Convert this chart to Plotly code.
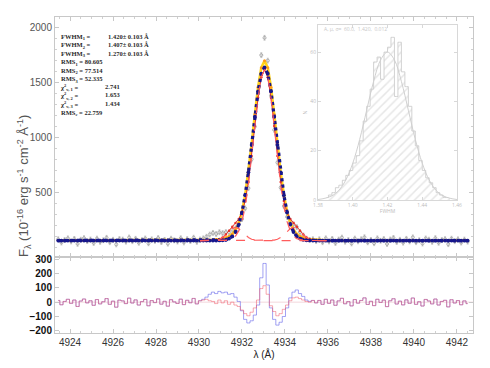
import plotly.graph_objects as go

# wavelength sampling (Angstrom)
WAVE = [
    4923.45, 4923.60, 4923.75, 4923.90, 4924.05, 4924.20, 4924.35, 4924.50, 4924.65, 4924.80,
    4924.95, 4925.10, 4925.25, 4925.40, 4925.55, 4925.70, 4925.85, 4926.00, 4926.15, 4926.30,
    4926.45, 4926.60, 4926.75, 4926.90, 4927.05, 4927.20, 4927.35, 4927.50, 4927.65, 4927.80,
    4927.95, 4928.10, 4928.25, 4928.40, 4928.55, 4928.70, 4928.85, 4929.00, 4929.15, 4929.30,
    4929.45, 4929.60, 4929.75, 4929.90, 4930.05, 4930.20, 4930.35, 4930.50, 4930.65, 4930.80,
    4930.95, 4931.10, 4931.25, 4931.40, 4931.55, 4931.70, 4931.85, 4932.00, 4932.15, 4932.30,
    4932.45, 4932.60, 4932.75, 4932.90, 4933.05, 4933.20, 4933.35, 4933.50, 4933.65, 4933.80,
    4933.95, 4934.10, 4934.25, 4934.40, 4934.55, 4934.70, 4934.85, 4935.00, 4935.15, 4935.30,
    4935.45, 4935.60, 4935.75, 4935.90, 4936.05, 4936.20, 4936.35, 4936.50, 4936.65, 4936.80,
    4936.95, 4937.10, 4937.25, 4937.40, 4937.55, 4937.70, 4937.85, 4938.00, 4938.15, 4938.30,
    4938.45, 4938.60, 4938.75, 4938.90, 4939.05, 4939.20, 4939.35, 4939.50, 4939.65, 4939.80,
    4939.95, 4940.10, 4940.25, 4940.40, 4940.55, 4940.70, 4940.85, 4941.00, 4941.15, 4941.30,
    4941.45, 4941.60, 4941.75, 4941.90, 4942.05, 4942.20, 4942.35, 4942.50,
]

# observed flux
FLUX_OBS = [
    72, 42, 65, 80, 52, 75, 30, 68, 82, 55, 70, 38, 78, 48, 63, 85, 45, 67, 25, 74,
    69, 50, 88, 54, 76, 40, 64, 79, 35, 71, 57, 83, 46, 66, 32, 77, 62, 51, 81, 43,
    73, 56, 86, 48,
    70, 80, 95, 115, 130, 120, 136, 128, 137, 133, 158, 173, 211, 256, 354, 538, 802, 1100, 1402, 1752,
    1910, 1702, 1382, 1070, 772, 543, 374, 276, 236, 208, 183, 138, 107, 78, 66, 72, 55, 72, 45, 80,
    52,
    75, 38, 69, 87, 49, 64, 34, 78, 53, 72, 90, 44, 66, 36, 80, 58, 74, 29, 70, 84,
    47, 67, 41, 76, 52, 89, 45, 63, 33, 79, 68, 48, 82, 40, 65, 73, 27, 77, 54, 71,
    42, 69, 50,
]
FLUX_ERR = 22

# fit 1 (blue dots)
MODEL_1 = [
    60, 60, 60, 60, 60, 60, 60, 60, 60, 60, 60, 60, 60, 60, 60, 60, 60, 60, 60, 60, 60, 60,
    60, 60, 60, 60, 60, 60, 60, 60, 60, 60, 60, 60, 60, 60, 60, 60, 60, 60, 60, 60, 60, 60,
    60, 60, 60, 60, 60, 60, 61, 63, 67, 78, 98, 138, 206, 316, 474, 683, 932, 1190, 1422, 1582,
    1640, 1582, 1422, 1190, 932, 683, 474, 316, 206, 138, 98, 78, 67, 63, 61, 60, 60, 60, 60, 60,
    60,
    60, 60, 60, 60, 60, 60, 60, 60, 60, 60, 60, 60, 60, 60, 60, 60, 60, 60, 60, 60, 60, 60,
    60, 60, 60, 60, 60, 60, 60, 60, 60, 60, 60, 60, 60, 60, 60, 60, 60, 60, 60, 60, 60,
]

# fit 2 (yellow / orange)
MODEL_2 = [
    60, 60, 60, 60, 60, 60, 60, 60, 60, 60, 60, 60, 60, 60, 60, 60, 60, 60, 60, 60, 60, 60,
    60, 60, 60, 60, 60, 60, 60, 60, 60, 60, 60, 60, 60, 60, 60, 60, 60, 60, 60, 60, 60, 61,
    61, 62, 63, 64, 66, 69, 72, 77, 86, 98, 120, 157, 221, 322, 475, 684, 938, 1211, 1460, 1637,
    1700, 1637, 1460, 1211, 938, 684, 475, 322, 221, 157, 120, 98, 86, 77, 72, 69, 66, 64, 63, 62,
    61,
    61, 60, 60, 60, 60, 60, 60, 60, 60, 60, 60, 60, 60, 60, 60, 60, 60, 60, 60, 60, 60, 60,
    60, 60, 60, 60, 60, 60, 60, 60, 60, 60, 60, 60, 60, 60, 60, 60, 60, 60, 60, 60, 60,
]

# fit 3 (red)
MODEL_3 = [
    60, 60, 60, 60, 60, 60, 60, 60, 60, 60, 60, 60, 60, 60, 60, 60, 60, 60, 60, 60, 60, 60,
    60, 60, 60, 60, 60, 60, 60, 60, 60, 60, 60, 60, 60, 60, 60, 60, 60, 60, 60, 60, 60, 60,
    60, 60, 60, 60, 61, 64, 72, 89, 116, 150, 186, 221, 257, 315, 422, 595, 831, 1105, 1364, 1551,
    1620, 1551, 1364, 1105, 831, 595, 422, 315, 257, 221, 186, 150, 116, 89, 72, 64, 61, 60, 60, 60,
    60,
    60, 60, 60, 60, 60, 60, 60, 60, 60, 60, 60, 60, 60, 60, 60, 60, 60, 60, 60, 60, 60, 60,
    60, 60, 60, 60, 60, 60, 60, 60, 60, 60, 60, 60, 60, 60, 60, 60, 60, 60, 60, 60, 60,
]

# individual gaussian components of fit 3, on WAVE[44:85]
COMP_LEFT = [
    60, 60, 60, 60, 61, 64, 72, 88, 113, 143, 169, 180, 169, 143, 113, 88, 72, 64, 61, 60,
    60, 60, 60, 60, 60, 60, 60, 60, 60, 60, 60, 60, 60, 60, 60, 60, 60, 60, 60, 60, 60,
]
COMP_CENTRAL = [
    60, 60, 60, 60, 60, 60, 60, 61, 63, 67, 77, 101, 148, 232, 369, 567, 819, 1101, 1363, 1551,
    1620, 1551, 1363, 1101, 819, 567, 369, 232, 148, 101, 77, 67, 63, 61, 60, 60, 60, 60, 60, 60,
    60,
]
COMP_RIGHT = [
    60, 60, 60, 60, 60, 60, 60, 60, 60, 60, 60, 60, 60, 60, 60, 60, 60, 60, 60, 60,
    60, 60, 61, 64, 72, 88, 113, 143, 169, 180, 169, 143, 113, 88, 72, 64, 61, 60, 60, 60, 60,
]

# residuals (observed - fit)
RESID_1 = [
    12, -18, 5, 20, -8, 15, -30, 8, 22, -5, 10, -22, 18, -12, 3, 25, -15, 7, -35, 14,
    9, -10, 28, -6, 16, -20, 4, 19, -25, 11, -3, 23, -14, 6, -28, 17, 2, -9, 21, -17,
    13, -4, 26, -12,
    10, 20, 35, 55, 70, 60, 75, 65, 70, 55, 60, 35, 5, -60, -120, -145, -130, -90, -20, 170,
    270, 120, -40, -120, -160, -140, -100, -40, 30, 70, 85, 60, 40, 15, 5, 12, -5, 12, -15, 20,
    -8,
    15, -22, 9, 27, -11, 4, -26, 18, -7, 12, 30, -16, 6, -24, 20, -2, 14, -31, 10, 24,
    -13, 7, -19, 16, -8, 29, -15, 3, -27, 19, 8, -12, 22, -20, 5, 13, -33, 17, -6, 11,
    -18, 9, -10,
]
RESID_3 = [
    12, -18, 5, 20, -8, 15, -30, 8, 22, -5, 10, -22, 18, -12, 3, 25, -15, 7, -35, 14,
    9, -10, 28, -6, 16, -20, 4, 19, -25, 11, -3, 23, -14, 6, -28, 17, 2, -9, 21, -17,
    13, -4, 26, -12,
    10, 15, 20, 10, 5, -10, 15, -5, 10, -15, 0, -20, -30, -55, -80, -95, -70, -40, 15, 95,
    115, 55, -25, -65, -95, -80, -50, -20, 10, 30, 35, 25, 15, 5, 0, 12, -5, 12, -15, 20,
    -8,
    15, -22, 9, 27, -11, 4, -26, 18, -7, 12, 30, -16, 6, -24, 20, -2, 14, -31, 10, 24,
    -13, 7, -19, 16, -8, 29, -15, 3, -27, 19, 8, -12, 22, -20, 5, 13, -33, 17, -6, 11,
    -18, 9, -10,
]

# inset: FWHM distribution
HIST_FWHM = [
    1.385, 1.387, 1.389, 1.391, 1.393, 1.395, 1.397, 1.399, 1.401, 1.403, 1.405, 1.407,
    1.409, 1.411, 1.413, 1.415, 1.417, 1.419, 1.421, 1.423, 1.425, 1.427, 1.429, 1.431,
    1.433, 1.435, 1.437, 1.439, 1.441, 1.443, 1.445, 1.447, 1.449, 1.451, 1.453, 1.455,
]
HIST_COUNT = [
    1, 2, 3, 5, 6, 8, 10, 12, 15, 18, 24, 32,
    38, 45, 56, 58, 49, 60, 62, 66, 42, 64, 52, 46,
    38, 28, 22, 16, 12, 9, 7, 5, 3, 2, 1, 1,
]
GAUSS_FWHM = [1.380, 1.384, 1.388, 1.392, 1.396, 1.400, 1.404, 1.408, 1.412, 1.416, 1.420,
              1.424, 1.428, 1.432, 1.436, 1.440, 1.444, 1.448, 1.452, 1.456, 1.460]
GAUSS_COUNT = [0.2, 0.7, 1.7, 3.9, 8.1, 14.9, 24.6, 36.4, 48.1, 56.8, 60.0,
               56.8, 48.1, 36.4, 24.6, 14.9, 8.1, 3.9, 1.7, 0.7, 0.2]

X_TICKS = [4924, 4926, 4928, 4930, 4932, 4934, 4936, 4938, 4940, 4942]
INSET_TICKS = [1.38, 1.40, 1.42, 1.44, 1.46]
INSET_LABELS = ["1.38", "1.40", "1.42", "1.44", "1.46"]

# fit statistics block
STAT_LABELS = [
    "FWHM<sub>1</sub> =", "FWHM<sub>2</sub> =", "FWHM<sub>3</sub> =",
    "RMS<sub>1</sub> = 80.605", "RMS<sub>2</sub> = 77.514", "RMS<sub>3</sub> = 52.335",
    "χ<sup>2</sup><sub>ν, 1</sub> =", "χ<sup>2</sup><sub>ν, 2</sub> =", "χ<sup>2</sup><sub>ν, 3</sub> =",
    "RMS<sub>c</sub> = 22.759",
]
FWHM_VALUES = ["1.420± 0.103 Å", "1.407± 0.103 Å", "1.270± 0.103 Å"]
CHI2_VALUES = ["2.741", "1.653", "1.434"]

# the page body has an 8px margin, so the figure is made smaller and shifted back
PAGE = 8
W, H = 490 - PAGE, 368 - PAGE
L, R, T, B = 55 - PAGE, 17, 17 - PAGE, 35
X0, X1, Y0, Y1 = 55, 473, 17, 333   # plot area in window pixels


def px(x):
    return (x - X0) / (X1 - X0)


def py(y):
    return (Y1 - y) / (Y1 - Y0)


split = py(257)
core = WAVE[44:85]

fig = go.Figure()

fig.add_trace(go.Scatter(
    x=WAVE, y=FLUX_OBS, mode="markers", xaxis="x2", yaxis="y2",
    marker=dict(symbol="circle-open", size=3, color="#9a9a9a", line=dict(width=0.8)),
    error_y=dict(type="constant", value=FLUX_ERR, color="#b5b5b5", thickness=0.7, width=1),
))
fig.add_trace(go.Scatter(
    x=WAVE, y=MODEL_2, mode="lines+markers", xaxis="x2", yaxis="y2",
    line=dict(color="#ffd21a", width=2.6),
    marker=dict(color="#ff9c1a", size=3),
))
fig.add_trace(go.Scatter(
    x=WAVE, y=MODEL_3, mode="lines+markers", xaxis="x2", yaxis="y2",
    line=dict(color="#e8352a", width=1),
    marker=dict(color="#e8352a", size=2.5),
))
fig.add_trace(go.Scatter(
    x=WAVE, y=MODEL_1, mode="lines+markers", xaxis="x2", yaxis="y2",
    line=dict(color="#16168c", width=3.2, dash="dot"),
    marker=dict(color="#16168c", size=3.8),
))
for comp in (COMP_LEFT, COMP_CENTRAL, COMP_RIGHT):
    fig.add_trace(go.Scatter(
        x=core, y=comp, mode="lines", xaxis="x2", yaxis="y2",
        line=dict(color="#ff5c5c", width=1.2, dash="dash"),
    ))

# residual panel
fig.add_trace(go.Scatter(
    x=WAVE, y=RESID_1, mode="lines", line_shape="hvh", xaxis="x", yaxis="y",
    line=dict(color="rgba(110,110,235,0.65)", width=1),
))
fig.add_trace(go.Scatter(
    x=WAVE, y=RESID_3, mode="lines", line_shape="hvh", xaxis="x", yaxis="y",
    line=dict(color="rgba(240,95,110,0.55)", width=1),
))

# inset histogram (hatched fill + step outline)
fig.add_trace(go.Bar(
    x=HIST_FWHM, y=HIST_COUNT, xaxis="x3", yaxis="y3", width=0.002,
    marker=dict(color="white", line=dict(width=0),
                pattern=dict(shape="/", fgcolor="#cdcdcd", bgcolor="white", size=6, solidity=0.25)),
))
fig.add_trace(go.Scatter(
    x=HIST_FWHM, y=HIST_COUNT, mode="lines", line_shape="hvh", xaxis="x3", yaxis="y3",
    line=dict(color="#cdcdcd", width=0.9),
))
fig.add_trace(go.Scatter(
    x=GAUSS_FWHM, y=GAUSS_COUNT, mode="lines", xaxis="x3", yaxis="y3", line_shape="spline",
    line=dict(color="#d0d0d0", width=1),
))

fig.add_shape(type="line", xref="x", yref="y", x0=4923.3, x1=4942.75, y0=0, y1=0,
              line=dict(color="rgba(230,170,180,0.6)", width=0.8), layer="below")

frame = dict(showline=True, linecolor="#c8c8c8", linewidth=1, mirror="ticks", ticks="inside",
             tickcolor="#c8c8c8", ticklen=4, showgrid=False, zeroline=False, automargin=False)
inset_frame = dict(showline=True, linecolor="#d8d8d8", mirror="ticks", ticks="inside",
                   tickcolor="#d8d8d8", ticklen=3, showgrid=False, zeroline=False, automargin=False)
sans = "Liberation Sans, Arial, sans-serif"
serif = "Liberation Serif, Times New Roman, serif"

fig.update_layout(
    width=W, height=H, margin=dict(l=L, r=R, t=T, b=B),
    paper_bgcolor="white", plot_bgcolor="white", showlegend=False, bargap=0,
    xaxis=dict(domain=[0, 1], anchor="y", range=[4923.3, 4942.75], tickvals=X_TICKS,
               minor=dict(ticks="inside", dtick=0.5, ticklen=2, tickcolor="#d0d0d0"),
               tickfont=dict(family=sans, size=10, color="#333"),
               title=dict(text="λ (Å)", standoff=2, font=dict(family=sans, size=10, color="#222")),
               **frame),
    xaxis2=dict(domain=[0, 1], anchor="y2", matches="x", showticklabels=False, tickvals=X_TICKS,
                minor=dict(ticks="inside", dtick=0.5, ticklen=2, tickcolor="#d0d0d0"), **frame),
    yaxis=dict(domain=[0, split], anchor="x", range=[-215, 315],
               tickvals=[-200, -100, 0, 100, 200, 300],
               tickfont=dict(family=sans, size=10, color="#111", weight="bold"), **frame),
    yaxis2=dict(domain=[split, 1], anchor="x2", range=[-90, 2100], tickvals=[500, 1000, 1500, 2000],
                minor=dict(ticks="inside", dtick=100, ticklen=2, tickcolor="#d0d0d0"),
                tickfont=dict(family=sans, size=10, color="#555"), **frame),
    xaxis3=dict(domain=[px(318), px(457)], anchor="y3", range=[1.38, 1.46],
                tickvals=INSET_TICKS, ticktext=INSET_LABELS,
                tickfont=dict(size=5, color="#bdbdbd"),
                title=dict(text="FWHM", standoff=0, font=dict(size=5, color="#bdbdbd")),
                **inset_frame),
    yaxis3=dict(domain=[py(200), py(25)], anchor="x3", range=[0, 71], tickvals=[0, 20, 40, 60],
                tickfont=dict(size=5, color="#bdbdbd"),
                title=dict(text="N", standoff=2, font=dict(size=5, color="#bdbdbd")),
                **inset_frame),
)

# statistics block: one multi-line text per column so that rows share the same pitch
stat_size = 6.5
pitch = 1.3 * stat_size
top = 30.5
stat_font = dict(family=serif, size=stat_size, color="#2a2a2a", weight="bold")
fig.add_annotation(x=px(58), y=py(top), xref="paper", yref="paper", text="<br>".join(STAT_LABELS),
                   showarrow=False, xanchor="left", yanchor="top", align="left", font=stat_font)
fig.add_annotation(x=px(106), y=py(top), xref="paper", yref="paper", text="<br>".join(FWHM_VALUES),
                   showarrow=False, xanchor="left", yanchor="top", align="left", font=stat_font)
fig.add_annotation(x=px(103), y=py(top + 6 * pitch), xref="paper", yref="paper",
                   text="<br>".join(CHI2_VALUES),
                   showarrow=False, xanchor="left", yanchor="top", align="left", font=stat_font)

fig.add_annotation(x=px(322), y=py(29), xref="paper", yref="paper",
                   text="A, μ, σ=  60.0,  1.420,  0.012", showarrow=False,
                   xanchor="left", yanchor="middle", font=dict(size=5, color="#c8c8c8"))

fig.add_annotation(x=px(13), y=py(186), xref="paper", yref="paper", textangle=-90, showarrow=False,
                   text="F<sub>λ</sub> (10<sup>-16</sup> erg s<sup>-1</sup> cm<sup>-2</sup> Å<sup>-1</sup>)",
                   font=dict(family=sans, size=13, color="#555"))

fig.write_html("out.html")
